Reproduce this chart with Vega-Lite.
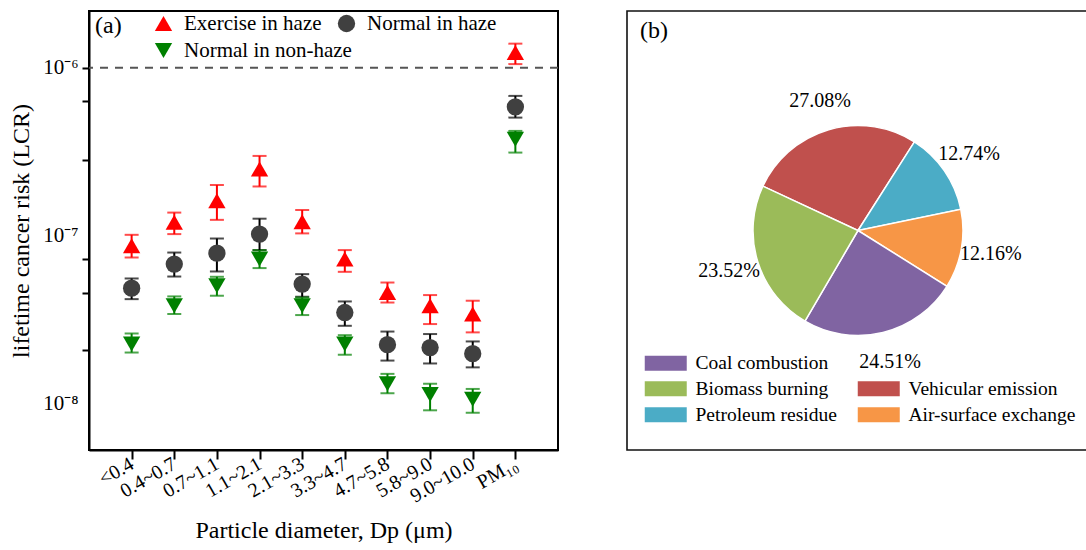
{
  "$schema": "https://vega.github.io/schema/vega-lite/v6.json",
  "padding": {"left": 8, "top": 10, "right": 0, "bottom": 0},
  "autosize": {"type": "pad"},
  "background": "white",
  "datasets": {
    "lcr": [
      {"size": "<0.4", "series": "Exercise in haze", "lcr": 8.7e-8, "lo": 7.4e-8, "hi": 1.01e-7},
      {"size": "<0.4", "series": "Normal in haze", "lcr": 4.86e-8, "lo": 4.18e-8, "hi": 5.55e-8},
      {"size": "<0.4", "series": "Normal in non-haze", "lcr": 2.26e-8, "lo": 2.01e-8, "hi": 2.61e-8},
      {"size": "0.4~0.7", "series": "Exercise in haze", "lcr": 1.2e-7, "lo": 1.02e-7, "hi": 1.37e-7},
      {"size": "0.4~0.7", "series": "Normal in haze", "lcr": 6.76e-8, "lo": 5.7e-8, "hi": 7.92e-8},
      {"size": "0.4~0.7", "series": "Normal in non-haze", "lcr": 3.82e-8, "lo": 3.41e-8, "hi": 4.34e-8},
      {"size": "0.7~1.1", "series": "Exercise in haze", "lcr": 1.61e-7, "lo": 1.24e-7, "hi": 2.0e-7},
      {"size": "0.7~1.1", "series": "Normal in haze", "lcr": 7.86e-8, "lo": 6.11e-8, "hi": 9.6e-8},
      {"size": "0.7~1.1", "series": "Normal in non-haze", "lcr": 5.02e-8, "lo": 4.38e-8, "hi": 5.68e-8},
      {"size": "1.1~2.1", "series": "Exercise in haze", "lcr": 2.49e-7, "lo": 1.96e-7, "hi": 2.98e-7},
      {"size": "1.1~2.1", "series": "Normal in haze", "lcr": 1.02e-7, "lo": 8.19e-8, "hi": 1.26e-7},
      {"size": "1.1~2.1", "series": "Normal in non-haze", "lcr": 7.24e-8, "lo": 6.4e-8, "hi": 8.19e-8},
      {"size": "2.1~3.3", "series": "Exercise in haze", "lcr": 1.21e-7, "lo": 1.03e-7, "hi": 1.42e-7},
      {"size": "2.1~3.3", "series": "Normal in haze", "lcr": 5.14e-8, "lo": 4.32e-8, "hi": 5.89e-8},
      {"size": "2.1~3.3", "series": "Normal in non-haze", "lcr": 3.82e-8, "lo": 3.36e-8, "hi": 4.28e-8},
      {"size": "3.3~4.7", "series": "Exercise in haze", "lcr": 7.24e-8, "lo": 6.08e-8, "hi": 8.19e-8},
      {"size": "3.3~4.7", "series": "Normal in haze", "lcr": 3.48e-8, "lo": 2.9e-8, "hi": 4.05e-8},
      {"size": "3.3~4.7", "series": "Normal in non-haze", "lcr": 2.26e-8, "lo": 1.95e-8, "hi": 2.55e-8},
      {"size": "4.7~5.8", "series": "Exercise in haze", "lcr": 4.58e-8, "lo": 3.99e-8, "hi": 5.25e-8},
      {"size": "4.7~5.8", "series": "Normal in haze", "lcr": 2.24e-8, "lo": 1.8e-8, "hi": 2.68e-8},
      {"size": "4.7~5.8", "series": "Normal in non-haze", "lcr": 1.31e-8, "lo": 1.15e-8, "hi": 1.5e-8},
      {"size": "5.8~9.0", "series": "Exercise in haze", "lcr": 3.82e-8, "lo": 2.97e-8, "hi": 4.42e-8},
      {"size": "5.8~9.0", "series": "Normal in haze", "lcr": 2.15e-8, "lo": 1.73e-8, "hi": 2.59e-8},
      {"size": "5.8~9.0", "series": "Normal in non-haze", "lcr": 1.13e-8, "lo": 9.1e-9, "hi": 1.31e-8},
      {"size": "9.0~10.0", "series": "Exercise in haze", "lcr": 3.41e-8, "lo": 2.65e-8, "hi": 4.09e-8},
      {"size": "9.0~10.0", "series": "Normal in haze", "lcr": 1.98e-8, "lo": 1.64e-8, "hi": 2.34e-8},
      {"size": "9.0~10.0", "series": "Normal in non-haze", "lcr": 1.06e-8, "lo": 8.8e-9, "hi": 1.22e-8},
      {"size": "PM₁₀", "series": "Exercise in haze", "lcr": 1.23e-6, "lo": 1.05e-6, "hi": 1.39e-6},
      {"size": "PM₁₀", "series": "Normal in haze", "lcr": 5.84e-7, "lo": 5.04e-7, "hi": 6.79e-7},
      {"size": "PM₁₀", "series": "Normal in non-haze", "lcr": 3.75e-7, "lo": 3.12e-7, "hi": 4.2e-7}
    ],
    "sources": [
      {"source": "Vehicular emission", "share": 27.08},
      {"source": "Petroleum residue", "share": 12.74},
      {"source": "Air-surface exchange", "share": 12.16},
      {"source": "Coal combustion", "share": 24.51},
      {"source": "Biomass burning", "share": 23.52}
    ]
  },
  "spacing": 66,
  "resolve": {"scale": {"color": "independent", "shape": "independent"}, "legend": {"color": "independent", "shape": "independent"}},
  "hconcat": [
    {
      "width": 469,
      "height": 439,
      "title": {"text": "(a)", "anchor": "start", "frame": "group", "dx": 6, "dy": 31, "fontSize": 24, "font": "Liberation Serif", "fontWeight": "normal", "color": "black"},
      "data": {"name": "lcr"},
      "layer": [
        {
          "data": {"values": [{}]},
          "mark": {"type": "rule", "strokeDash": [8, 7], "color": "#555555", "strokeWidth": 2},
          "encoding": {"y": {"datum": 1e-6, "type": "quantitative", "title": "lifetime cancer risk (LCR)"}}
        },
        {
          "mark": {"type": "errorbar", "ticks": {"size": 14}, "thickness": 2},
          "encoding": {
            "x": {"field": "size", "type": "ordinal", "sort": ["<0.4", "0.4~0.7", "0.7~1.1", "1.1~2.1", "2.1~3.3", "3.3~4.7", "4.7~5.8", "5.8~9.0", "9.0~10.0", "PM₁₀"], "title": "Particle diameter, Dp (μm)"},
            "y": {"field": "lo", "type": "quantitative", "title": "lifetime cancer risk (LCR)"},
            "y2": {"field": "hi"},
            "color": {"condition": [{"test": "datum.series === 'Exercise in haze'", "value": "#ff0000"}, {"test": "datum.series === 'Normal in non-haze'", "value": "#008000"}], "value": "#000000"}
          }
        },
        {
          "mark": {"type": "point", "filled": true, "opacity": 1},
          "encoding": {
            "x": {
              "field": "size", "type": "ordinal",
              "sort": ["<0.4", "0.4~0.7", "0.7~1.1", "1.1~2.1", "2.1~3.3", "3.3~4.7", "4.7~5.8", "5.8~9.0", "9.0~10.0", "PM₁₀"],
              "scale": {"type": "point", "padding": 1},
              "title": "Particle diameter, Dp (μm)",
              "axis": {"labelAngle": -30, "labelFontSize": 20, "labelPadding": 3, "tickSize": 9, "titlePadding": 12}
            },
            "y": {
              "field": "lcr", "type": "quantitative",
              "title": "lifetime cancer risk (LCR)",
              "scale": {"type": "log", "domain": [5.28e-9, 2.175e-6], "nice": false},
              "axis": {
                "values": [1e-6, 6.34e-7, 2.82e-7, 1e-7, 7.26e-8, 4.56e-8, 2.09e-8, 1e-8],
                "labelExpr": "datum.value === 1e-6 ? '10⁻⁶' : datum.value === 1e-7 ? '10⁻⁷' : datum.value === 1e-8 ? '10⁻⁸' : ''",
                "tickOpacity": {"condition": {"test": "datum.value === 1e-7 || datum.value === 1e-8", "value": 0}, "value": 1},
                "labelFontSize": 21, "labelPadding": 4, "tickSize": 7, "titlePadding": 9, "labelOverlap": false
              }
            },
            "color": {
              "field": "series", "type": "nominal",
              "scale": {"domain": ["Exercise in haze", "Normal in haze", "Normal in non-haze"], "range": ["#ff0000", "#404040", "#008000"]},
              "legend": {"orient": "none", "legendX": 64, "legendY": 2, "columns": 2, "title": null, "values": ["Exercise in haze", "Normal in non-haze", "Normal in haze"], "gridAlign": "none", "columnPadding": -16, "rowPadding": 5, "labelFontSize": 21, "labelLimit": 300, "symbolSize": 300, "labelOffset": 10}
            },
            "shape": {
              "field": "series", "type": "nominal",
              "scale": {"domain": ["Exercise in haze", "Normal in haze", "Normal in non-haze"], "range": ["triangle-up", "circle", "triangle-down"]},
              "legend": {"orient": "none", "legendX": 64, "legendY": 2, "columns": 2, "title": null, "values": ["Exercise in haze", "Normal in non-haze", "Normal in haze"], "gridAlign": "none", "columnPadding": -16, "rowPadding": 5, "labelFontSize": 21, "labelLimit": 300, "symbolSize": 300, "labelOffset": 10}
            },
            "size": {"value": 300}
          }
        }
      ]
    },
    {
      "width": 462,
      "height": 439,
      "view": {"stroke": "#111111", "strokeWidth": 1.6},
      "title": {"text": "(b)", "anchor": "start", "frame": "group", "dx": 13, "dy": 36, "fontSize": 24, "font": "Liberation Serif", "fontWeight": "normal", "color": "black"},
      "data": {"name": "sources"},
      "transform": [
        {"calculate": "format(datum.share, '.2f') + '%'", "as": "label"},
        {"calculate": "indexof(['Vehicular emission', 'Petroleum residue', 'Air-surface exchange', 'Coal combustion', 'Biomass burning'], datum.source)", "as": "slice_order"}
      ],
      "layer": [
        {
          "mark": {"type": "arc", "outerRadius": 105, "stroke": "white", "strokeWidth": 1.5},
          "encoding": {
            "theta": {"field": "share", "type": "quantitative", "stack": true, "scale": {"range": [-1.1345, 5.1487]}},
            "order": {"field": "slice_order", "type": "quantitative"},
            "color": {
              "field": "source", "type": "nominal",
              "scale": {"domain": ["Vehicular emission", "Petroleum residue", "Air-surface exchange", "Coal combustion", "Biomass burning", ""], "range": ["#C0504D", "#4BACC6", "#F79646", "#8064A2", "#9BBB59", "transparent"]},
              "legend": {
                "orient": "none", "legendX": 29, "legendY": 342, "columns": 2, "title": null,
                "values": ["Coal combustion", "Biomass burning", "Petroleum residue", "", "Vehicular emission", "Air-surface exchange"],
                "symbolType": "M-2.8,-1H2.8V1H-2.8Z", "symbolSize": 225, "symbolStrokeWidth": 0,
                "labelFontSize": 19.5, "labelLimit": 300, "rowPadding": 5, "columnPadding": 20, "labelOffset": 20
              }
            }
          }
        },
        {
          "mark": {"type": "text", "radius": 135, "fontSize": 20, "font": "Liberation Serif", "color": "#000000"},
          "encoding": {
            "theta": {"field": "share", "type": "quantitative", "stack": true},
            "order": {"field": "slice_order", "type": "quantitative"},
            "text": {"field": "label"}
          }
        }
      ]
    }
  ],
  "config": {
    "font": "Liberation Serif",
    "view": {"stroke": "black", "strokeWidth": 2},
    "axis": {
      "grid": false, "domainColor": "black", "domainWidth": 2, "tickColor": "black", "tickWidth": 2,
      "labelFont": "Liberation Serif", "labelColor": "black",
      "titleFont": "Liberation Serif", "titleFontSize": 24, "titleFontWeight": "normal", "titleColor": "black"
    },
    "legend": {"labelFont": "Liberation Serif", "labelColor": "black"}
  }
}
